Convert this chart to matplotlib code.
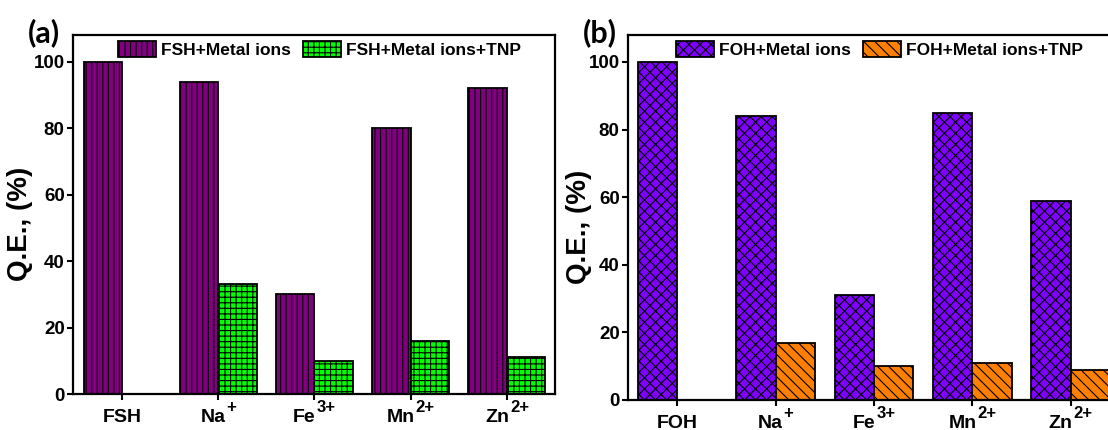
import matplotlib
matplotlib.use("Agg")
import matplotlib.pyplot as plt
import numpy as np

plt.rcParams['font.family'] = ['Liberation Sans', 'DejaVu Sans']
plt.rcParams['font.weight'] = 'bold'
plt.rcParams['hatch.linewidth'] = 0.8

# quantum efficiency data (%)
ion_base = ['Na', 'Fe', 'Mn', 'Zn']
ion_charge = ['+', '3+', '2+', '2+']
fsh_metal = [100, 94, 30, 80, 92]
fsh_metal_tnp = [0, 33, 10, 16, 11]
foh_metal = [100, 84, 31, 85, 59]
foh_metal_tnp = [0, 17, 10, 11, 9]

fig = plt.figure(figsize=(11.08, 4.30), dpi=100)
ax1 = fig.add_axes([0.0659, 0.0837, 0.435, 0.835])
ax2 = fig.add_axes([0.5668, 0.0698, 0.444, 0.849])

w = 0.4
label_pairs = []  # (base text, charge text)


def draw(ax, host, s1, s2, c1, c2, h1, h2, n1, n2, legx, xleft, labx):
    x = np.arange(len(s1))
    b1 = ax.bar(x - w / 2, s1, w, color=c1, edgecolor='black', linewidth=1.3, hatch=h1, label=n1)
    b2 = ax.bar(x + w / 2, s2, w, color=c2, edgecolor='black', linewidth=1.3, hatch=h2, label=n2)
    ax.set_xlim(xleft, 4.5)
    ax.set_ylim(0, 108)
    ax.set_xticks(x)
    ax.set_xticklabels([])
    ax.set_yticks([0, 20, 40, 60, 80, 100])
    ax.tick_params(axis='both', direction='out', length=4, width=1.5, labelsize=13.5, pad=2)
    for s in ax.spines.values():
        s.set_linewidth(1.6)
    ax.set_ylabel('Q.E., (%)', fontsize=20, fontweight='bold')
    ax.yaxis.set_label_coords(labx, 0.475)
    fig.legend(handles=[b1, b2], loc='center left', bbox_to_anchor=(legx, 0.884),
               ncol=2, frameon=False, fontsize=12.5, borderpad=0, borderaxespad=0,
               handlelength=2.2, handleheight=1.05, handletextpad=0.3, columnspacing=0.65)

    # category labels with raised charges
    names = [host] + ion_base
    charges = [''] + ion_charge
    for xi, nm, ch in zip(x, names, charges):
        tb = ax.annotate(nm, xy=(xi, 0), xycoords=('data', 'axes fraction'),
                         xytext=(0, -20.2), textcoords='offset points',
                         ha='left', va='baseline', fontsize=14, fontweight='bold',
                         annotation_clip=False)
        ts = ax.annotate(ch, xy=(xi, 0), xycoords=('data', 'axes fraction'),
                         xytext=(0, -13.2), textcoords='offset points',
                         ha='left', va='baseline', fontsize=12, fontweight='bold',
                         annotation_clip=False)
        label_pairs.append((tb, ts))


draw(ax1, 'FSH', fsh_metal, fsh_metal_tnp, '#800080', '#00ff00', '|||', '+++',
     'FSH+Metal ions', 'FSH+Metal ions+TNP', 0.1065, -0.51, -0.083)
draw(ax2, 'FOH', foh_metal, foh_metal_tnp, '#8000ff', '#ff8000', 'xxx', '\\\\\\',
     'FOH+Metal ions', 'FOH+Metal ions+TNP', 0.6101, -0.5, -0.073)

fig.text(0.025, 0.925, '(a)', family='Lato', fontsize=22, fontweight='bold', va='center', ha='left')
fig.text(0.526, 0.925, '(b)', family='Lato', fontsize=22, fontweight='bold', va='center', ha='left')

# centre each base+charge pair under its tick
renderer = fig.canvas.get_renderer()
px2pt = 72.0 / fig.dpi
for tb, ts in label_pairs:
    wb = tb.get_window_extent(renderer).width
    ws = ts.get_window_extent(renderer).width if ts.get_text() else 0.0
    gap = 1 if ws else 0
    left = -(wb + ws + gap) / 2 * px2pt
    tb.xyann = (left, tb.xyann[1])
    ts.xyann = (left + (wb + gap) * px2pt, ts.xyann[1])

fig.savefig('out.png', dpi=100)
